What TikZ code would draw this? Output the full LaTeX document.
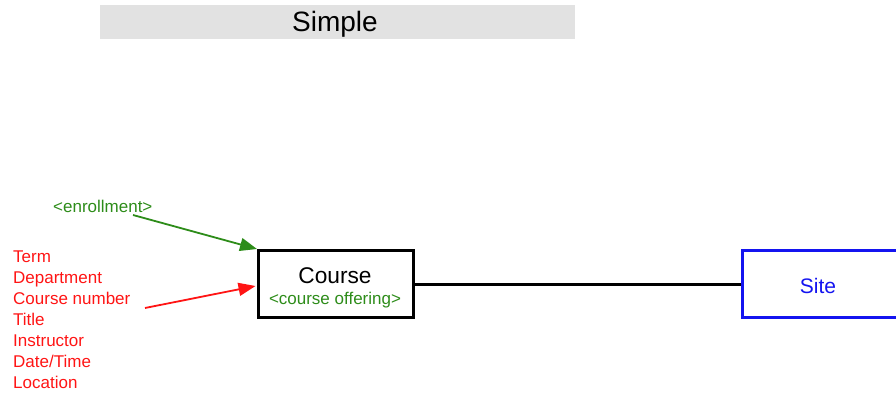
\documentclass[tikz,border=0pt]{standalone}
\usepackage{fontspec}
\setmainfont{Liberation Sans}
\usetikzlibrary{arrows.meta,calc}
\definecolor{bannergray}{RGB}{226,226,226}
\definecolor{notegreen}{RGB}{45,140,25}
\definecolor{notered}{RGB}{255,20,20}
\definecolor{siteblue}{RGB}{20,20,240}
\tikzset{
  entity/.style={draw, line width=3pt, minimum width=155pt, minimum height=67pt, inner sep=0pt},
  txt/.style={inner sep=0pt, anchor=base},
  listtxt/.style={inner sep=0pt, anchor=base west, text=notered, font=\fontsize{17}{21}\selectfont},
  notearrow/.style={line width=1.8pt, -{Triangle[length=17pt,width=13pt]}},
}
\begin{document}
\begin{tikzpicture}[x=1pt,y=-1pt]
\useasboundingbox (0,0) rectangle (896,393);
\clip (0,0) rectangle (896,393);
% banner
\fill[bannergray] (100,5) rectangle (575,39);
\node[txt, font=\fontsize{28}{32}\selectfont] (title) at (335,32) {Simple};
% entities
\node[entity] (course) at (336,284) {};
\node[txt, font=\fontsize{22.7}{26}\selectfont] (coursename) at (335,283) {Course};
\node[txt, text=notegreen, font=\fontsize{17}{21}\selectfont] (offering) at (335,304) {<course offering>};
\node[entity, draw=siteblue, minimum width=157pt] (site) at (821,284) {};
\node[txt, text=siteblue, font=\fontsize{21}{25}\selectfont] (sitename) at (818,293) {Site};
\draw[line width=3pt] (course.east) -- (site.west);
% enrollment note
\node[txt, anchor=base west, text=notegreen, font=\fontsize{17}{21}\selectfont] (enroll) at (53,212) {<enrollment>};
\coordinate (gsrc) at (133,215);
\draw[notearrow, notegreen] (gsrc) -- (course.north west);
% attribute list
\foreach \t [count=\i] in {Term,Department,Course number,Title,Instructor,Date/Time,Location}
  \node[listtxt] (attr\i) at (13,{262+21*(\i-1)}) {\t};
\coordinate (rsrc) at (145,308);
\coordinate (rdst) at ($(course.west)+(-1.5,2)$);
\draw[notearrow, notered] (rsrc) -- (rdst);
\end{tikzpicture}
\end{document}
